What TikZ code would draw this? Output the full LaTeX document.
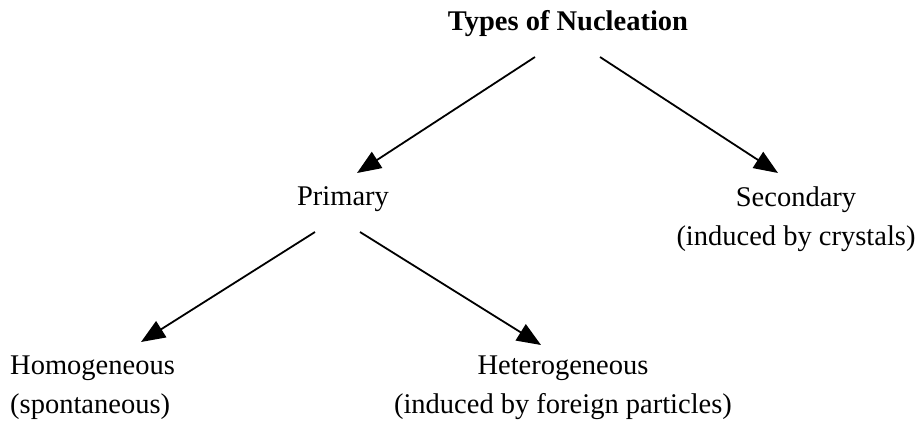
\documentclass[tikz,border=0pt]{standalone}
\usepackage{fontspec}
\setmainfont{Liberation Serif}
\usetikzlibrary{arrows.meta}
\begin{document}
\begin{tikzpicture}[x=1pt,y=-1pt,
  lbl/.style={inner sep=0pt,align=center,font=\fontsize{28.5}{39}\selectfont},
  arr/.style={line width=1.8pt,-{Triangle[length=24pt,width=19pt]}}]
\useasboundingbox (0,0) rectangle (923,424);
\node[lbl,font=\fontsize{28.5}{39}\selectfont\bfseries] (title) at (568,24) {Types of Nucleation};
\node[lbl] (prim) at (343,199) {Primary};
\node[lbl] (sec) at (796,219) {Secondary\\(induced by crystals)};
\node[lbl,align=left,anchor=west] (homo) at (10,388) {Homogeneous\\(spontaneous)};
\node[lbl] (hetero) at (563,388) {Heterogeneous\\(induced by foreign particles)};
\draw[arr] ([shift={(-33,33)}]title.center) -- ([shift={(14,-26)}]prim.center);
\draw[arr] ([shift={(32,33)}]title.center) -- ([shift={(-18,-46)}]sec.center);
\draw[arr] ([shift={(-28,33)}]prim.center) -- ([shift={(131,-46)}]homo.west);
\draw[arr] ([shift={(17,33)}]prim.center) -- ([shift={(-22,-43)}]hetero.center);
\end{tikzpicture}
\end{document}
